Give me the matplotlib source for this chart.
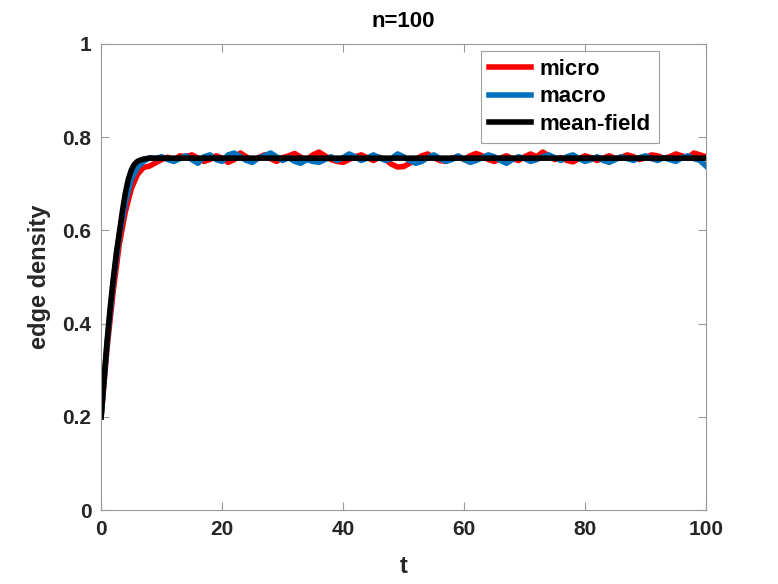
import numpy as np
import matplotlib
matplotlib.use('Agg')
import matplotlib.pyplot as plt

plt.rcParams['font.family'] = ['Liberation Sans', 'DejaVu Sans']
plt.rcParams['font.weight'] = 'bold'

# Datos
t = np.arange(0, 101)

micro = [0.20, 0.35, 0.47, 0.57, 0.64, 0.69, 0.72, 0.735, 0.738, 0.745,
         0.752, 0.757, 0.750, 0.760, 0.758, 0.762, 0.755, 0.748, 0.752, 0.760,
         0.755, 0.746, 0.752, 0.766, 0.758, 0.750, 0.756, 0.762, 0.754, 0.748,
         0.756, 0.760, 0.765, 0.757, 0.752, 0.762, 0.768, 0.760, 0.752, 0.748,
         0.746, 0.752, 0.758, 0.762, 0.756, 0.750, 0.757, 0.752, 0.742, 0.736,
         0.737, 0.744, 0.752, 0.760, 0.764, 0.756, 0.750, 0.748, 0.755, 0.758,
         0.752, 0.760, 0.765, 0.760, 0.752, 0.748, 0.755, 0.760, 0.754, 0.750,
         0.758, 0.764, 0.758, 0.768, 0.760, 0.752, 0.756, 0.750, 0.747, 0.754,
         0.760, 0.756, 0.750, 0.755, 0.760, 0.754, 0.757, 0.762, 0.758, 0.752,
         0.756, 0.762, 0.760, 0.755, 0.758, 0.764, 0.760, 0.756, 0.766, 0.762,
         0.758]

macro = [0.20, 0.36, 0.49, 0.59, 0.66, 0.71, 0.735, 0.748, 0.756, 0.754,
         0.758, 0.752, 0.748, 0.754, 0.760, 0.752, 0.744, 0.758, 0.762, 0.752,
         0.748, 0.762, 0.766, 0.758, 0.750, 0.746, 0.755, 0.760, 0.766, 0.758,
         0.750, 0.756, 0.748, 0.744, 0.752, 0.748, 0.746, 0.752, 0.758, 0.750,
         0.756, 0.764, 0.758, 0.750, 0.755, 0.762, 0.756, 0.750, 0.754, 0.764,
         0.758, 0.750, 0.744, 0.748, 0.756, 0.762, 0.754, 0.748, 0.752, 0.760,
         0.752, 0.746, 0.750, 0.756, 0.762, 0.758, 0.750, 0.744, 0.752, 0.758,
         0.754, 0.748, 0.752, 0.758, 0.762, 0.756, 0.750, 0.758, 0.762, 0.754,
         0.748, 0.752, 0.758, 0.750, 0.746, 0.752, 0.758, 0.754, 0.750, 0.756,
         0.760, 0.754, 0.750, 0.756, 0.752, 0.748, 0.756, 0.760, 0.754, 0.750,
         0.738]

t_mf = [0, 0.5, 1, 1.5, 2, 2.5, 3, 3.5, 4, 4.5, 5, 5.5, 6, 6.5, 7, 8, 100]
mean_field = [0.20, 0.285, 0.365, 0.435, 0.495, 0.55, 0.595, 0.64, 0.68, 0.71,
              0.73, 0.742, 0.748, 0.751, 0.753, 0.755, 0.755]

fig = plt.figure(figsize=(7.78, 5.84), dpi=100)
ax = fig.add_axes([0.13, 0.1267, 0.7775, 0.798])

ax.plot(t, micro, color=(1, 0, 0), lw=4, label='micro')
ax.plot(t, macro, color=(0, 0.447, 0.741), lw=4, label='macro')
ax.plot(t_mf, mean_field, color='black', lw=4, label='mean-field')

ax.set_xlim(0, 100)
ax.set_ylim(0, 1)
ax.set_xticks(np.arange(0, 101, 20))
ax.set_yticks([0, 0.2, 0.4, 0.6, 0.8, 1])
ax.set_yticklabels(['0', '0.2', '0.4', '0.6', '0.8', '1'])

grey = (0.15, 0.15, 0.15)
for s in ax.spines.values():
    s.set_color('#999999')
    s.set_linewidth(0.8)
ax.tick_params(direction='in', length=6, width=0.8, colors='#999999',
               labelcolor=grey, labelsize=15, top=True, right=True, pad=7)
for lab in ax.get_xticklabels() + ax.get_yticklabels():
    lab.set_fontweight('bold')

ax.set_title('n=100', fontsize=16, fontweight='bold', color='black', pad=12)
ax.set_xlabel('t', fontsize=17, fontweight='bold', color=grey, labelpad=12)
ax.set_ylabel('edge density', fontsize=17, fontweight='bold', color=grey, labelpad=8)

leg = ax.legend(loc='upper right', bbox_to_anchor=(0.922, 0.985), fontsize=16,
                handlelength=1.9, frameon=True, fancybox=False, borderaxespad=0,
                borderpad=0.35, labelspacing=0.3, handletextpad=0.4)
leg.get_frame().set_edgecolor('#888888')
leg.get_frame().set_linewidth(0.8)
for txt in leg.get_texts():
    txt.set_fontweight('bold')

fig.savefig('out.png', dpi=100)
